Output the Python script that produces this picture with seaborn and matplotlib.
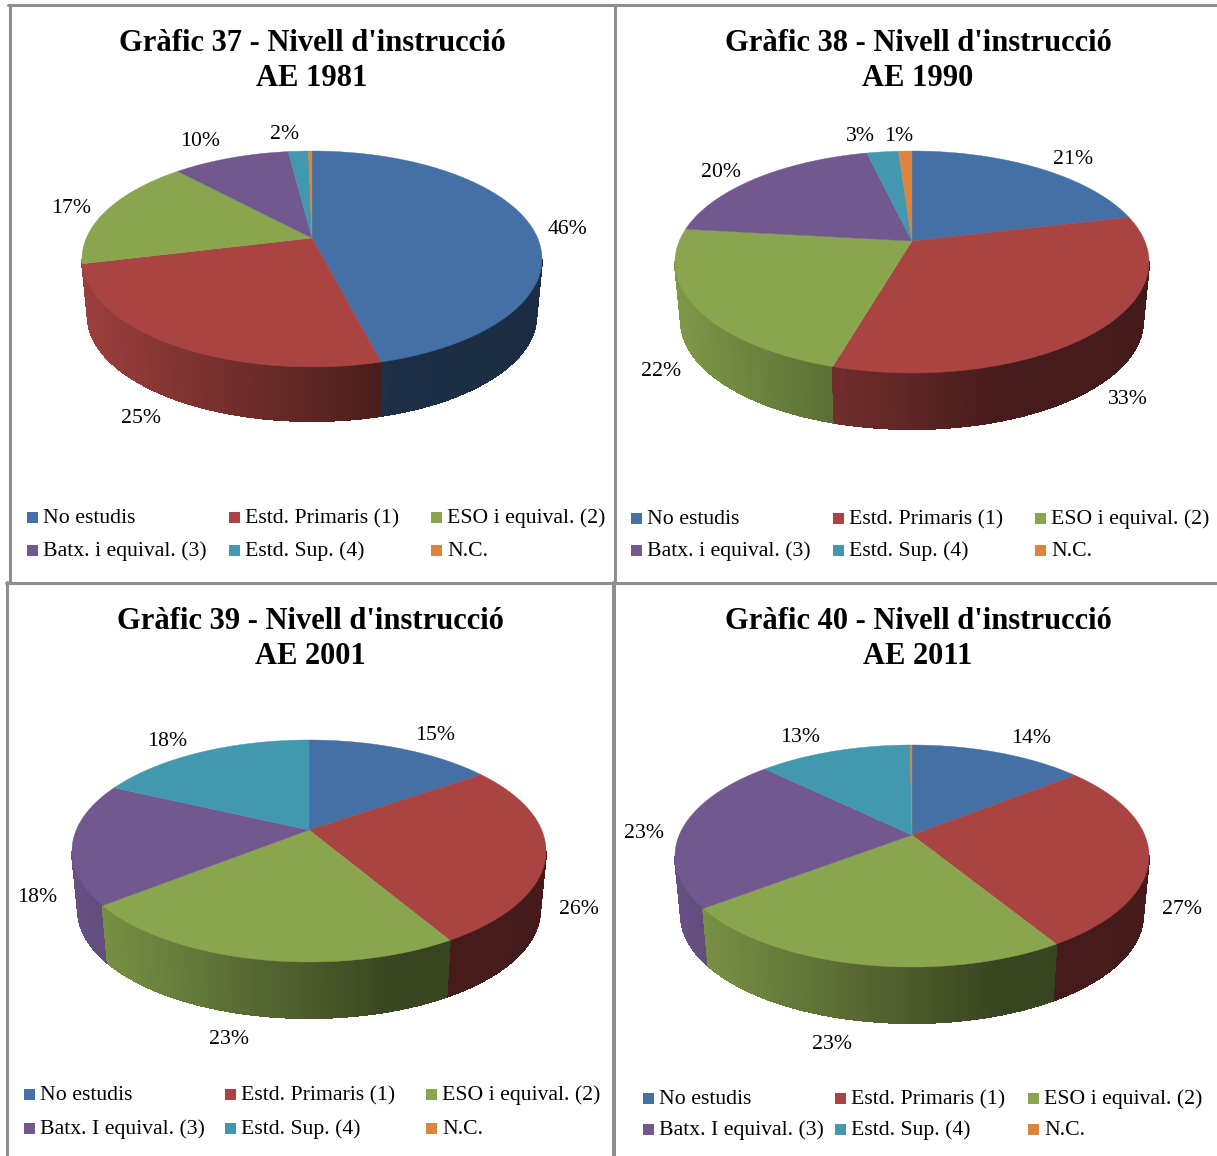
# Quatre pastissos 3D : nivell d'instruccio per any
import numpy as np
import matplotlib.pyplot as plt
import seaborn as sns

# Dades
titols = ["Gràfic 37 - Nivell d'instrucció\nAE 1981",
          "Gràfic 38 - Nivell d'instrucció\nAE 1990",
          "Gràfic 39 - Nivell d'instrucció\nAE 2001",
          "Gràfic 40 - Nivell d'instrucció\nAE 2011"]
valors_1981 = [46, 25.2, 16.9, 9.9, 1.7, 0.3]
valors_1990 = [21.3, 33.2, 22.3, 19.5, 2.6, 1.1]
valors_2001 = [15.3, 26.25, 22.75, 17.7, 18, 0]
valors_2011 = [14.3, 27, 23.3, 22.7, 12.55, 0.15]
legenda_a = ["No estudis", "Estd. Primaris (1)", "ESO i equival. (2)",
             "Batx. i equival. (3)", "Estd. Sup. (4)", "N.C."]
legenda_b = ["No estudis", "Estd. Primaris (1)", "ESO i equival. (2)",
             "Batx. I equival. (3)", "Estd. Sup. (4)", "N.C."]
colors = sns.color_palette(["#4470a6", "#a94442", "#89a54e", "#71588f", "#4198af", "#db843d"])

# Geometria de cada panell (pixels)
panells = [
    dict(valors=valors_1981, legenda=legenda_a, cx=312, cy=238, top=151, bottom=367, hw=230, base=421,
         titol=(312, 61), files=(517, 550), cols=(27, 229, 431),
         etiq=[(567, 227), (141, 416), (71, 206), (200, 139), (285, 132), None]),
    dict(valors=valors_1990, legenda=legenda_a, cx=912, cy=241, top=151, bottom=373, hw=237, base=429,
         titol=(918, 61), files=(518, 550), cols=(631, 833, 1035),
         etiq=[(1073, 157), (1128, 397), (661, 369), (721, 170), (860, 134), (899, 134)]),
    dict(valors=valors_2001, legenda=legenda_b, cx=309, cy=830, top=740, bottom=962, hw=237, base=1018,
         titol=(310, 639), files=(1094, 1128), cols=(24, 225, 426),
         etiq=[(435, 733), (579, 907), (229, 1037), (37, 895), (167, 739), None]),
    dict(valors=valors_2011, legenda=legenda_b, cx=912, cy=835, top=745, bottom=967, hw=237, base=1023,
         titol=(918, 639), files=(1098, 1129), cols=(643, 835, 1028),
         etiq=[(1031, 736), (1182, 907), (832, 1042), (644, 831), (800, 735), None]),
]

sns.set_theme(style="white")
plt.rcParams['font.family'] = ['Liberation Serif', 'DejaVu Serif']

fig = plt.figure(figsize=(12.17, 11.56), dpi=100)
ax = fig.add_axes([0, 0, 1, 1])
ax.set_xlim(0, 1217)
ax.set_ylim(1156, 0)
ax.axis('off')


def projecta(p, angle):
    """Cercle unitat -> el·lipse amb perspectiva, angle en sentit horari des de dalt."""
    amunt = p['cy'] - p['top']
    avall = p['bottom'] - p['cy']
    k = (avall - amunt) / (avall + amunt)
    a = amunt * (1 + k)
    r = p['hw'] * np.sqrt(1 - k ** 2)
    x, y = np.sin(angle), np.cos(angle)
    w = 1 + k * y
    return r * x / w, a * y / w


def dibuixa_pastis(p):
    valors = np.array(p['valors'], dtype=float)
    limits = np.concatenate([[0], np.cumsum(valors)]) / valors.sum() * 2 * np.pi
    s = 0.975
    avall = p['bottom'] - p['cy']
    gruix = p['base'] - p['cy'] - avall * s
    ymig = ((p['cy'] - p['top']) - avall) / 2

    # Paret lateral, amb ombra segons la posicio horitzontal; del fons cap al davant
    trossos = []
    for i, color in enumerate(colors):
        if valors[i] == 0:
            continue
        n = max(int(np.degrees(limits[i + 1] - limits[i])), 1)
        angles = np.linspace(limits[i], limits[i + 1], n + 1)
        X, Y = projecta(p, angles)
        for j in range(n):
            ym = (Y[j] + Y[j + 1]) / 2
            if ym > ymig:
                continue
            xm = (X[j] + X[j + 1]) / 2 / p['hw']
            f = np.interp(xm, [-1, 0.35, 1], [0.92, 0.42, 0.40])
            c = tuple(v * f for v in color)
            xs = [p['cx'] + X[j], p['cx'] + X[j + 1], p['cx'] + X[j + 1] * s, p['cx'] + X[j] * s]
            ys = [p['cy'] - Y[j], p['cy'] - Y[j + 1], p['cy'] - Y[j + 1] * s + gruix, p['cy'] - Y[j] * s + gruix]
            trossos.append((ym, xs, ys, c))
    trossos.sort(key=lambda t: -t[0])
    for ym, xs, ys, c in trossos:
        ax.fill(xs, ys, color=c, lw=0.8, antialiased=False, zorder=2)

    # Cara superior
    for i, color in enumerate(colors):
        if valors[i] == 0:
            continue
        angles = np.linspace(limits[i], limits[i + 1], 180)
        X, Y = projecta(p, angles)
        ax.fill(np.r_[p['cx'], p['cx'] + X], np.r_[p['cy'], p['cy'] - Y], color=color, lw=0.3, zorder=3)

    # Percentatges
    for v, pos in zip(p['valors'], p['etiq']):
        if pos is not None:
            ax.text(pos[0], pos[1] + 7, f"{round(v)}%", ha='center', va='baseline', fontsize=15.7,
                    color='black', zorder=5)


def dibuixa_legenda(p):
    for i, nom in enumerate(p['legenda']):
        x = p['cols'][i % 3]
        y = p['files'][i // 3]
        ax.fill([x, x + 11, x + 11, x], [y - 5.5, y - 5.5, y + 5.5, y + 5.5], color=colors[i], lw=0, zorder=3)
        ax.text(x + 16, y + 6, nom, ha='left', va='baseline', fontsize=15.7, color='black', zorder=5)


for p in panells:
    dibuixa_pastis(p)
    dibuixa_legenda(p)
    ax.text(p['titol'][0], p['titol'][1], titols[panells.index(p)], ha='center', va='center',
            fontsize=22, fontweight='bold', linespacing=1.3, color='black', zorder=5)

# Marcs dels panells
gris = '#8f8f8f'
ax.plot([8, 1217], [5, 5], color=gris, lw=2.2)
ax.plot([9.5, 9.5], [5, 583], color=gris, lw=2.2)
ax.plot([7, 7], [582, 1156], color=gris, lw=2.2)
ax.plot([614.5, 614.5], [5, 583], color=gris, lw=2.2)
ax.plot([614, 614], [583, 1156], color=gris, lw=2.9)
ax.plot([6, 1217], [583, 583], color=gris, lw=2.2)

fig.savefig('out.png', dpi=100)
